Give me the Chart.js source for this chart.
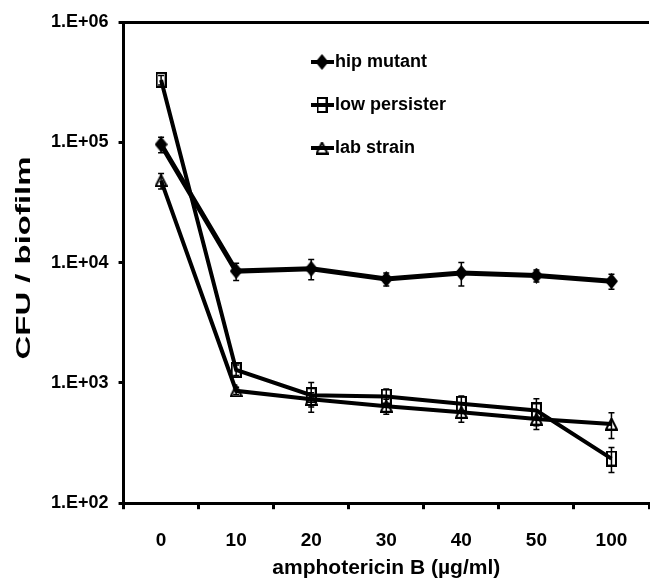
<!DOCTYPE html>
<html>
<head>
<meta charset="utf-8">
<script src="https://cdn.jsdelivr.net/npm/chart.js@4.4.0/dist/chart.umd.min.js"></script>
<style>
html, body { margin: 0; padding: 0; overflow: hidden; background: #fff; }
#wrap { width: 660px; height: 581px; }
</style>
</head>
<body>
<div id="wrap"><canvas id="chart"></canvas></div>
<script>
const doses = ['0', '10', '20', '30', '40', '50', '100']
const hipMutant = [96000, 8500, 8900, 7300, 8200, 7800, 7000]
const hipMutantErr = [14000, 1400, 1700, 900, 1800, 900, 1000]
const lowPersister = [330000, 1280, 790, 770, 670, 590, 235]
const lowPersisterErr = [30000, 130, 220, 120, 110, 150, 55]
const labStrain = [48000, 860, 730, 640, 570, 500, 455]
const labStrainErr = [7000, 60, 100, 90, 100, 90, 110]
const yTicks = [1e2, 1e3, 1e4, 1e5, 1e6]
const yTickLabels = ['1.E+02', '1.E+03', '1.E+04', '1.E+05', '1.E+06']

const FONT = '"Liberation Sans", Arial, sans-serif'

// marker shapes, a bit taller than wide like the original
function marker(kind) {
    const c = document.createElement('canvas')
    const w = kind === 'diamond' ? 13 : kind === 'square' ? 11 : 13
    const h = kind === 'diamond' ? 16 : kind === 'square' ? 16 : 13
    c.width = w; c.height = h
    const g = c.getContext('2d')
    g.strokeStyle = '#000'; g.fillStyle = '#000'; g.lineWidth = 2
    g.beginPath()
    if (kind === 'diamond') {
        g.moveTo(w / 2, 0); g.lineTo(w, h / 2); g.lineTo(w / 2, h); g.lineTo(0, h / 2); g.closePath(); g.fill()
    } else if (kind === 'square') {
        g.rect(1, 1, w - 2, h - 2); g.stroke()
    } else {
        g.moveTo(w / 2, 1); g.lineTo(w - 1, h - 1); g.lineTo(1, h - 1); g.closePath(); g.stroke()
    }
    return c
}

const errors = [hipMutantErr, lowPersisterErr, labStrainErr]

const errorBars = {
    id: 'errorBars',
    afterDatasetsDraw(chart) {
        const ctx = chart.ctx
        const y = chart.scales.y
        ctx.save()
        ctx.strokeStyle = '#000'
        ctx.lineWidth = 1.5
        chart.data.datasets.forEach((ds, i) => {
            const meta = chart.getDatasetMeta(i)
            ds.data.forEach((v, j) => {
                const x = meta.data[j].x
                const top = y.getPixelForValue(v + errors[i][j])
                const bot = y.getPixelForValue(v - errors[i][j])
                ctx.beginPath()
                ctx.moveTo(x, top); ctx.lineTo(x, bot)
                ctx.moveTo(x - 3, top); ctx.lineTo(x + 3, top)
                ctx.moveTo(x - 3, bot); ctx.lineTo(x + 3, bot)
                ctx.stroke()
            })
        })
        ctx.restore()
    }
}

const legendBox = {
    id: 'legendBox',
    afterDraw(chart) {
        const ctx = chart.ctx
        chart.data.datasets.forEach((ds, i) => {
            const y = 62 + i * 43
            ctx.save()
            ctx.strokeStyle = '#000'
            ctx.lineWidth = 4
            ctx.beginPath(); ctx.moveTo(311, y); ctx.lineTo(334, y); ctx.stroke()
            const img = ds.pointStyle
            ctx.drawImage(img, 322 - img.width / 2, y - img.height / 2)
            ctx.font = 'bold 18px ' + FONT
            ctx.fillStyle = '#000'
            ctx.textBaseline = 'middle'
            ctx.fillText(ds.label, 335, y)
            ctx.restore()
        })
    }
}

const yTitle = {
    id: 'yTitle',
    afterDraw(chart) {
        const ctx = chart.ctx
        const text = 'CFU / biofilm'
        ctx.save()
        ctx.font = 'bold 20px ' + FONT
        const w = ctx.measureText(text).width
        ctx.translate(24, 258)
        ctx.rotate(-Math.PI / 2)
        ctx.scale(203 / w, 1)
        ctx.fillStyle = '#000'
        ctx.textAlign = 'center'
        ctx.textBaseline = 'middle'
        ctx.fillText(text, 0, 0)
        ctx.restore()
    }
}

new Chart(document.getElementById('chart'), {
    type: 'line',
    data: {
        labels: doses,
        datasets: [
            { label: 'hip mutant', data: hipMutant, borderWidth: 5, pointStyle: marker('diamond') },
            { label: 'low persister', data: lowPersister, borderWidth: 4, pointStyle: marker('square') },
            { label: 'lab strain', data: labStrain, borderWidth: 4, pointStyle: marker('triangle') },
        ].map(d => Object.assign(d, { borderColor: '#000', backgroundColor: '#000', tension: 0, pointRadius: 6 })),
    },
    options: {
        responsive: true,
        maintainAspectRatio: false,
        animation: false,
        layout: { padding: { left: 41, top: 22, right: 9, bottom: -3 } },
        scales: {
            x: {
                offset: true,
                grid: { offset: true, drawOnChartArea: false, color: '#000', lineWidth: 3, tickLength: 6 },
                border: { color: '#000', width: 3 },
                ticks: { color: '#000', padding: 20, font: { family: FONT, size: 19, weight: 'bold' } },
                title: {
                    display: true,
                    text: 'amphotericin B (\u00b5g/ml)',
                    color: '#000',
                    padding: { top: -14, bottom: 5 },
                    font: { family: FONT, size: 21, weight: 'bold', lineHeight: 1 },
                },
            },
            y: {
                type: 'logarithmic',
                min: 1e2,
                max: 1e6,
                afterBuildTicks: scale => { scale.ticks = yTicks.map(v => ({ value: v })) },
                grid: {
                    color: ctx => (ctx.tick && ctx.tick.value === 1e6 ? '#000' : 'rgba(0,0,0,0)'),
                    lineWidth: 3,
                    tickColor: '#000',
                    tickLength: 5,
                    tickWidth: 3,
                },
                border: { color: '#000', width: 3 },
                ticks: {
                    color: '#000',
                    padding: 10,
                    font: { family: FONT, size: 18, weight: 'bold' },
                    callback: v => yTickLabels[yTicks.indexOf(v)],
                },
            },
        },
        plugins: {
            legend: { display: false },
            tooltip: { enabled: false },
        },
    },
    plugins: [errorBars, legendBox, yTitle],
})
</script>
</body>
</html>
